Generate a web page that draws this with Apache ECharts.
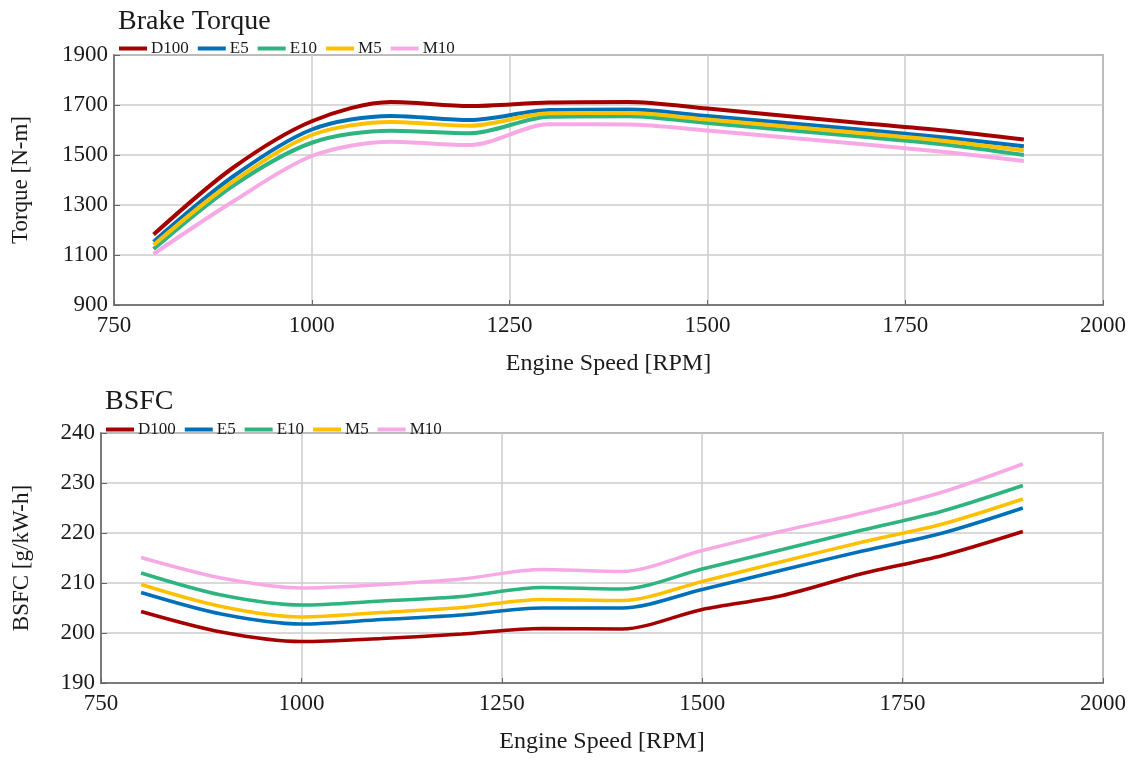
<!DOCTYPE html>
<html>
<head>
<meta charset="utf-8">
<script src="https://cdn.jsdelivr.net/npm/echarts@6/dist/echarts.min.js"></script>
<style>
html,body{margin:0;padding:0;background:#fff;}
#chart{width:1141px;height:760px;}
</style>
</head>
<body>
<div id="chart"></div>
<script>
const rpm = [800, 900, 1000, 1100, 1200, 1300, 1400, 1500, 1600, 1700, 1800, 1900];
const seriesNames = ['D100', 'E5', 'E10', 'M5', 'M10'];
const seriesColors = ['#a50000', '#0070b8', '#2eb47f', '#ffc000', '#f7a9e6'];

const torqueD100 = [1182, 1448, 1635, 1712, 1696, 1710, 1712, 1686, 1656, 1626, 1598, 1562];
const torqueE5   = [1153, 1413, 1602, 1656, 1640, 1680, 1682, 1656, 1628, 1600, 1570, 1535];
const torqueE10  = [1124, 1376, 1549, 1597, 1587, 1653, 1655, 1628, 1600, 1572, 1542, 1500];
const torqueM5   = [1140, 1393, 1580, 1632, 1617, 1667, 1668, 1642, 1614, 1586, 1556, 1518];
const torqueM10  = [1104, 1313, 1496, 1553, 1540, 1623, 1622, 1598, 1570, 1542, 1512, 1476];

const bsfcD100 = [204.3, 200.2, 198.3, 198.9, 199.8, 200.9, 200.8, 204.7, 207.5, 211.9, 215.5, 220.3];
const bsfcE5   = [208.1, 203.8, 201.8, 202.7, 203.6, 205.0, 205.0, 208.7, 212.6, 216.4, 220.0, 225.0];
const bsfcE10  = [212.0, 207.6, 205.6, 206.4, 207.3, 209.1, 208.8, 212.8, 216.7, 220.6, 224.4, 229.5];
const bsfcM5   = [209.7, 205.3, 203.2, 204.1, 205.1, 206.7, 206.5, 210.3, 214.3, 218.2, 221.8, 226.8];
const bsfcM10  = [215.1, 211.0, 209.0, 209.7, 210.8, 212.7, 212.3, 216.5, 220.4, 224.0, 228.2, 233.8];

const torqueData = [torqueD100, torqueE5, torqueE10, torqueM5, torqueM10];
const bsfcData = [bsfcD100, bsfcE5, bsfcE10, bsfcM5, bsfcM10];

const FONT = "'Liberation Serif', 'Times New Roman', serif";
const TXT = '#1a1a1a';

function pairs(ys) { return rpm.map((x, i) => [x, ys[i]]); }
function plain(v) { return String(v); }

function xAxisCfg(gridIndex) {
  return {
    gridIndex: gridIndex, type: 'value', min: 750, max: 2000, interval: 250,
    name: 'Engine Speed [RPM]', nameLocation: 'middle', nameGap: 47,
    nameTextStyle: { fontFamily: FONT, fontSize: 24, color: TXT },
    axisLine: { show: true, lineStyle: { color: '#666', width: 1.5 } },
    axisTick: { show: true, inside: true, length: 5, lineStyle: { color: '#666' } },
    axisLabel: { fontFamily: FONT, fontSize: 23, color: TXT, margin: 9, formatter: plain },
    splitLine: { show: true, lineStyle: { color: '#cccccc', width: 1.5 } }
  };
}
function yAxisCfg(gridIndex, name, min, max, interval, gap) {
  return {
    gridIndex: gridIndex, type: 'value', min: min, max: max, interval: interval,
    name: name, nameLocation: 'middle', nameGap: gap,
    nameTextStyle: { fontFamily: FONT, fontSize: 23, color: TXT },
    axisLine: { show: true, lineStyle: { color: '#666', width: 1.5 } },
    axisTick: { show: true, inside: true, length: 6, lineStyle: { color: '#666' } },
    axisLabel: { fontFamily: FONT, fontSize: 23, color: TXT, margin: 6, formatter: plain },
    splitLine: { show: true, lineStyle: { color: '#cccccc', width: 1.5 } }
  };
}
function legendCfg(left, top) {
  return {
    left: left, top: top, itemGap: 9, itemWidth: 28, itemHeight: 4, icon: 'rect',
    data: seriesNames,
    textStyle: { fontFamily: FONT, fontSize: 17, color: TXT, padding: [0, 0, 0, -1] }
  };
}

const series = [];
seriesNames.forEach((n, i) => {
  series.push({
    name: n, type: 'line', xAxisIndex: 0, yAxisIndex: 0, data: pairs(torqueData[i]),
    smooth: 0.3, showSymbol: false, lineStyle: { width: 4, color: seriesColors[i] },
    itemStyle: { color: seriesColors[i] }
  });
});
seriesNames.forEach((n, i) => {
  series.push({
    name: n, type: 'line', xAxisIndex: 1, yAxisIndex: 1, data: pairs(bsfcData[i]),
    smooth: 0.3, showSymbol: false, lineStyle: { width: 3.5, color: seriesColors[i] },
    itemStyle: { color: seriesColors[i] }
  });
});

const option = {
  animation: false,
  backgroundColor: '#fff',
  title: [
    { text: 'Brake Torque', left: 113, top: 3, textStyle: { fontFamily: FONT, fontSize: 28, fontWeight: 'normal', color: TXT } },
    { text: 'BSFC', left: 100, top: 383, textStyle: { fontFamily: FONT, fontSize: 28, fontWeight: 'normal', color: TXT } }
  ],
  legend: [legendCfg(114, 35), legendCfg(101, 416)],
  grid: [
    { left: 114, right: 38, top: 55, height: 250, show: true, borderColor: '#666', borderWidth: 1.5 },
    { left: 101, right: 38, top: 433, height: 250, show: true, borderColor: '#666', borderWidth: 1.5 }
  ],
  xAxis: [xAxisCfg(0), xAxisCfg(1)],
  yAxis: [yAxisCfg(0, 'Torque [N-m]', 900, 1900, 200, 82), yAxisCfg(1, 'BSFC [g/kW-h]', 190, 240, 10, 68)],
  series: series
};

const chart = echarts.init(document.getElementById('chart'), null, { renderer: 'canvas' });
chart.setOption(option);
</script>
</body>
</html>
